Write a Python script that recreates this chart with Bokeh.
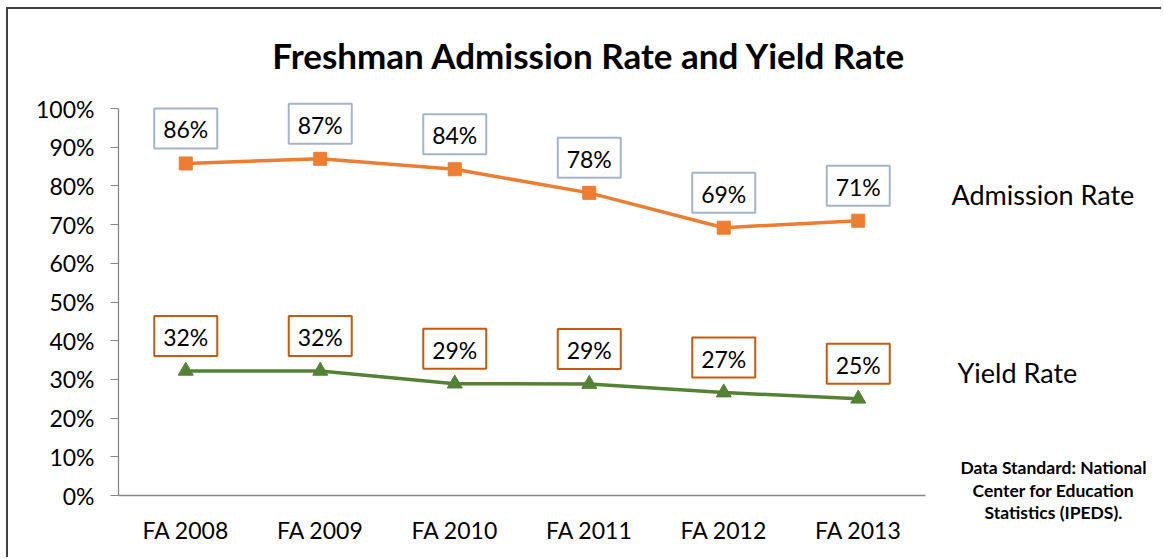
from bokeh.plotting import figure
from bokeh.models import FixedTicker, Label, ColumnDataSource, Range1d
from bokeh.core.properties import value
from bokeh.embed import file_html
from bokeh.resources import INLINE

# ---- data ----
categories = ["FA 2008", "FA 2009", "FA 2010", "FA 2011", "FA 2012", "FA 2013"]
admission_rate = [85.8, 87.0, 84.3, 78.2, 69.2, 71.0]
yield_rate = [32.2, 32.2, 28.9, 28.8, 26.6, 25.0]
y_ticks = [0, 10, 20, 30, 40, 50, 60, 70, 80, 90, 100]
title_text = "Freshman Admission Rate and Yield Rate"
series_names = ["Admission Rate", "Yield Rate"]
note_lines = ["Data Standard: National", "Center for Education", "Statistics (IPEDS)."]

FONT = "Lato"
ORANGE = "#ED7D31"
GREEN = "#548235"
AXIS_GRAY = "#868686"

# layout geometry (page pixels)
CANVAS_X0, CANVAS_Y0 = 8, 9
W, H = 1155, 550
AXIS_X, AXIS_Y = 118, 495          # page px of y axis / x axis
PX_PER_CAT = 807 / 6.0
PX_PER_PCT = 387 / 100.0

def px_x(px):
    return (px - AXIS_X) / PX_PER_CAT

def px_y(py):
    return (AXIS_Y - py) / PX_PER_PCT

x_pos = [i + 0.5 for i in range(len(categories))]

p = figure(width=W, height=H,
           x_range=Range1d(px_x(CANVAS_X0), px_x(CANVAS_X0 + W)),
           y_range=Range1d(px_y(CANVAS_Y0 + H), px_y(CANVAS_Y0)),
           output_backend="svg", toolbar_location=None,
           min_border_left=0, min_border_right=0,
           min_border_top=0, min_border_bottom=0)
p.styles = {"border-left": "2px solid #404040", "border-top": "2px solid #404040",
            "margin-left": "6px", "margin-top": "7px"}
p.outline_line_color = None
p.xgrid.grid_line_color = None
p.ygrid.grid_line_color = None

# y axis
p.yaxis.fixed_location = 0
p.yaxis.bounds = (0, 100)
p.yaxis.ticker = FixedTicker(ticks=y_ticks)
p.yaxis.major_label_overrides = {t: f"{t}%" for t in y_ticks}
p.yaxis.axis_line_color = AXIS_GRAY
p.yaxis.axis_line_width = 1.3
p.yaxis.major_tick_line_color = AXIS_GRAY
p.yaxis.major_tick_out = 8
p.yaxis.major_tick_in = 0
p.yaxis.minor_tick_line_color = None
p.yaxis.major_label_text_font = FONT
p.yaxis.major_label_text_font_size = "23px"
p.yaxis.major_label_text_color = "#000000"
p.yaxis.major_label_standoff = 16

# x axis
p.xaxis.fixed_location = 0
p.xaxis.bounds = (0, len(categories))
p.xaxis.ticker = FixedTicker(ticks=x_pos)
p.xaxis.major_label_overrides = {x: c for x, c in zip(x_pos, categories)}
p.xaxis.axis_line_color = AXIS_GRAY
p.xaxis.axis_line_width = 1.3
p.xaxis.major_tick_line_color = None
p.xaxis.minor_tick_line_color = None
p.xaxis.major_tick_out = 0
p.xaxis.major_label_text_font = FONT
p.xaxis.major_label_text_font_size = "23px"
p.xaxis.major_label_text_color = "#000000"
p.xaxis.major_label_standoff = 20

# lines
p.line(x_pos, admission_rate, line_color=ORANGE, line_width=3.5)
p.scatter(x_pos, admission_rate, marker="square", size=13,
          fill_color=ORANGE, line_color=ORANGE)
p.line(x_pos, yield_rate, line_color=GREEN, line_width=3.5)
p.scatter(x_pos, yield_rate, marker="triangle", size=15,
          fill_color=GREEN, line_color=GREEN)

# data labels
offset = 35 / PX_PER_PCT
for vals, border in [(admission_rate, "#A5B4CB"), (yield_rate, "#C55A11")]:
    src = ColumnDataSource(dict(
        x=x_pos,
        y=[v + offset for v in vals],
        t=[f"{round(v)}%" for v in vals],
    ))
    p.rect(x="x", y="y", width=63, height=40, width_units="screen",
           height_units="screen", fill_color="white", line_color=border,
           line_width=2, source=src)
    p.text(x="x", y="y", text="t", source=src, text_align="center",
           text_baseline="middle", text_font=value(FONT),
           text_font_size="23px", text_color="#000000", y_offset=1)

# title
p.add_layout(Label(x=px_x(589), y=px_y(54), text=title_text, text_align="center",
                   text_baseline="middle", text_font=FONT, text_font_style="bold",
                   text_font_size="35px", text_color="#000000"))

# series names
p.add_layout(Label(x=px_x(951), y=px_y(194), text=series_names[0], text_align="left",
                   text_baseline="middle", text_font=FONT, text_font_size="27px",
                   text_color="#000000"))
p.add_layout(Label(x=px_x(957), y=px_y(372), text=series_names[1], text_align="left",
                   text_baseline="middle", text_font=FONT, text_font_size="27px",
                   text_color="#000000"))

# note
for line, py in zip(note_lines, [467, 490, 512]):
    p.add_layout(Label(x=px_x(1053), y=px_y(py), text=line, text_align="center",
                       text_baseline="middle", text_font=FONT, text_font_style="bold",
                       text_font_size="17.5px", text_color="#000000"))

open("out.html", "w").write(file_html(p, INLINE))
